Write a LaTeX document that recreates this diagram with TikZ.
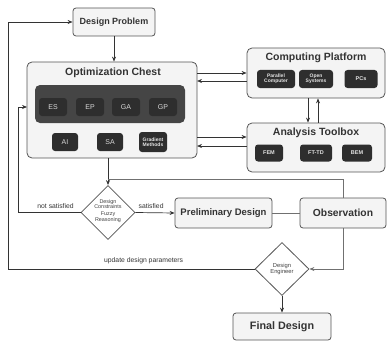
\documentclass[tikz,border=0pt]{standalone}
\usepackage{fontspec}
\setmainfont{Liberation Sans}
\usetikzlibrary{arrows.meta,shapes.geometric}
\definecolor{boxfill}{HTML}{F4F4F4}
\definecolor{boxline}{HTML}{555555}
\definecolor{darkbg}{HTML}{454545}
\definecolor{darkbox}{HTML}{2E2E2E}
\definecolor{fbline}{HTML}{707070}
\begin{document}
\begin{tikzpicture}[x=1pt,y=-1pt,
  bigbox/.style={draw=boxline,line width=0.8pt,fill=boxfill,rounded corners=5pt,inner sep=0pt},
  smallbox/.style={draw=boxline,line width=0.8pt,fill=boxfill,rounded corners=3pt,inner sep=0pt,font=\bfseries\fontsize{9.5}{10}\selectfont,text=black!80},
  title/.style={font=\bfseries\fontsize{10.5}{11}\selectfont,text=black!80},
  algo/.style={fill=darkbox,rounded corners=3pt,inner sep=0pt,text=white!85!black,font=\fontsize{7}{8}\selectfont,align=center},
  tinyalgo/.style={fill=darkbox,rounded corners=3pt,inner sep=0pt,text=white!90!black,font=\bfseries\fontsize{5}{5.4}\selectfont,align=center},
  decision/.style={diamond,draw=boxline,line width=0.8pt,fill=white,inner sep=0pt,aspect=1},
  dtext/.style={align=center,text=black!75,inner sep=0pt},
  arr/.style={draw=black!80,line width=0.7pt,-{Stealth[length=5pt,width=4pt]}},
  fb/.style={draw=fbline,line width=0.7pt},
  fbarr/.style={draw=fbline,line width=0.7pt,-{Stealth[length=5pt,width=4pt]}},
  lbl/.style={font=\fontsize{6.8}{7}\selectfont,text=black!80}
]
\useasboundingbox (0,0) rectangle (387,342);
% Design Problem
\node[smallbox,minimum width=82pt,minimum height=28pt,font=\bfseries\fontsize{9}{10}\selectfont] (dp) at (114,22) {Design Problem};
% Optimization Chest
\node[bigbox,minimum width=170pt,minimum height=96pt] (oc) at (112,110) {};
\node[title] (octitle) at (113,73) {Optimization Chest};
\node[fill=darkbg,rounded corners=5pt,minimum width=150pt,minimum height=38pt,inner sep=0pt] (dark) at (110,104) {};
\node[algo,minimum width=28pt,minimum height=18pt] (es) at (53,107) {ES};
\node[algo,minimum width=28pt,minimum height=18pt] (ep) at (90,107) {EP};
\node[algo,minimum width=28pt,minimum height=18pt] (ga) at (126,107) {GA};
\node[algo,minimum width=28pt,minimum height=18pt] (gp) at (163,107) {GP};
\node[algo,minimum width=26pt,minimum height=18pt] (ai) at (65,142) {AI};
\node[algo,minimum width=26pt,minimum height=18pt] (sa) at (110,142) {SA};
\node[tinyalgo,minimum width=28pt,minimum height=20pt] (gm) at (153,142) {Gradient\\Methods};
% Computing Platform
\node[bigbox,minimum width=138pt,minimum height=50pt] (cp) at (316,73) {};
\node[title] (cptitle) at (316,58) {Computing Platform};
\node[tinyalgo,minimum width=38pt,minimum height=18pt] (pc) at (276,79) {Parallel\\Computer};
\node[tinyalgo,minimum width=34pt,minimum height=18pt] (os) at (316,79) {Open\\Systems};
\node[tinyalgo,minimum width=33pt,minimum height=18pt,font=\bfseries\fontsize{5.5}{6}\selectfont] (pcs) at (361,79) {PCs};
% Analysis Toolbox
\node[bigbox,minimum width=138pt,minimum height=49pt] (at) at (316,147.5) {};
\node[title] (attitle) at (316,133) {Analysis Toolbox};
\node[tinyalgo,minimum width=28pt,minimum height=17pt,font=\bfseries\fontsize{5.5}{6}\selectfont] (fem) at (269,153) {FEM};
\node[tinyalgo,minimum width=32pt,minimum height=17pt,font=\bfseries\fontsize{5.5}{6}\selectfont] (fttd) at (316,153) {FT-TD};
\node[tinyalgo,minimum width=30pt,minimum height=17pt,font=\bfseries\fontsize{5.5}{6}\selectfont] (bem) at (357,153) {BEM};
% Decision diamonds
\node[decision,minimum width=54pt,minimum height=54pt] (d1) at (108,212.5) {};
\node[dtext,font=\fontsize{5.4}{5.8}\selectfont] (d1t) at (108,211) {Design\\Constraints\\[1.2pt]Fuzzy\\Reasoning};
\node[decision,minimum width=54pt,minimum height=53pt] (de) at (282,269) {};
\node[dtext,font=\fontsize{5.8}{6.4}\selectfont] (det) at (282,269) {Design\\Engineer};
% Other boxes
\node[smallbox,minimum width=97pt,minimum height=30pt] (pd) at (223.5,213) {Preliminary Design};
\node[smallbox,minimum width=86pt,minimum height=30pt,font=\bfseries\fontsize{10.3}{11}\selectfont] (ob) at (343,213) {Observation};
\node[smallbox,minimum width=98pt,minimum height=27pt,font=\bfseries\fontsize{10.8}{11}\selectfont] (fd) at (282,326.5) {Final Design};
% coordinates
\coordinate (c1) at (197,73);
\coordinate (c2) at (197,81);
\coordinate (c3) at (197,137);
\coordinate (c4) at (197,146);
\coordinate (merge) at (108,179);
% connectors
\draw[arr] (dp.south) -- (oc.north -| dp.south);
\draw[arr] (c1) -- (c1 -| cp.west);
\draw[arr] (c2 -| cp.west) -- (c2);
\draw[arr] (c3) -- (c3 -| at.west);
\draw[arr] (c4 -| at.west) -- (c4);
\draw[arr] (cp.south -| 308,0) -- (at.north -| 308,0);
\draw[arr] (at.north -| 318,0) -- (cp.south -| 318,0);
\draw[arr] (oc.south -| d1.north) -- (d1.north);
\draw[fb] (ob.north) |- (merge);
\draw[arr] (d1.east) -- node[lbl,above=0.5pt,pos=0.4] {satisfied} (pd.west);
\draw[fb] (pd.east) -- (ob.west);
\draw[arr] (d1.west) -- node[lbl,above=0.5pt,pos=0.4] {not satisfied} (18,212.5) |- (27,107);
\draw[fbarr] (ob.south) |- (de.east);
\draw[arr] (de.west) -- node[lbl,above=1pt,pos=0.45] {update design parameters} (8,269) |- (dp.west);
\draw[arr] (de.south) -- (fd.north);
\end{tikzpicture}
\end{document}
